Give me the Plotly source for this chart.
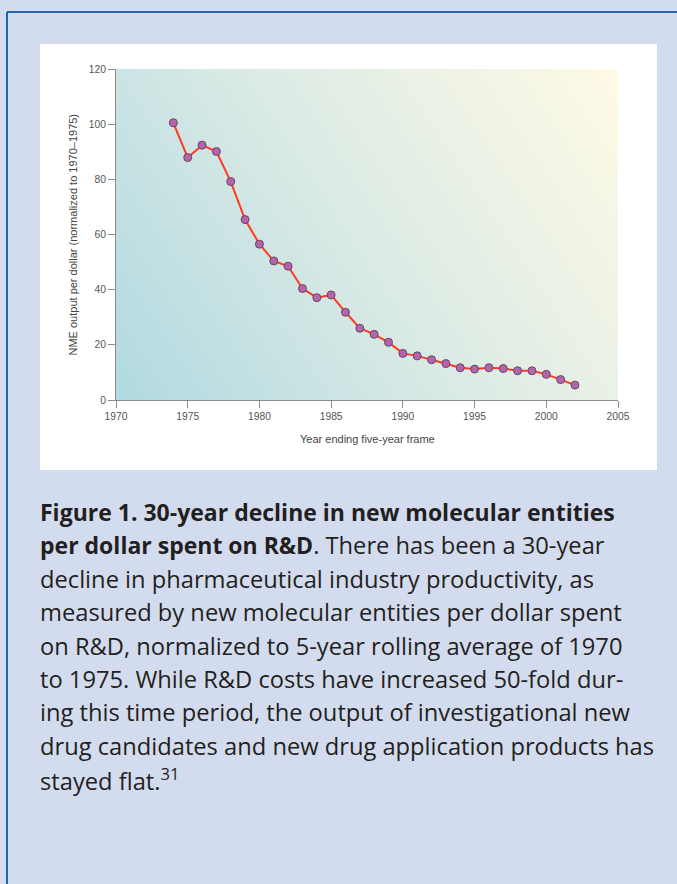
import base64
import plotly.graph_objects as go

# ---- data ----
years = list(range(1974, 2003))
nme_per_dollar = [100.5, 87.9, 92.4, 90.1, 79.2, 65.4, 56.5, 50.4, 48.5, 40.4,
                  37.1, 38.1, 31.8, 26.0, 23.8, 20.9, 16.9, 16.0, 14.6, 13.2,
                  11.7, 11.2, 11.7, 11.4, 10.6, 10.6, 9.3, 7.4, 5.4]
x_ticks = [1970, 1975, 1980, 1985, 1990, 1995, 2000, 2005]
y_ticks = [0, 20, 40, 60, 80, 100, 120]
x_title = "Year ending five-year frame"
y_title = "NME output per dollar (normalized to 1970\u20131975)"
BOLD = '<span style="font-size:23px"><b>{}</b></span>'
caption_lines = [
    BOLD.format("Figure 1. 30-year decline in new molecular entities"),
    BOLD.format("per dollar spent on R&amp;D") + ". There has been a 30-year",
    "decline in pharmaceutical industry productivity, as",
    "measured by new molecular entities per dollar spent",
    "on R&amp;D, normalized to 5-year rolling average of 1970",
    "to 1975. While R&amp;D costs have increased 50-fold dur-",
    "ing this time period, the output of investigational new",
    "drug candidates and new drug application products has",
    "stayed flat.<sup>31</sup>",
]

W, H = 677, 884
L, R, T, B = 116, 618, 69, 400  # plot area in pixels
PW, PH = R - L, B - T


def px(X):
    return (X - L) / PW


def py(Y):
    return (B - Y) / PH


fig = go.Figure()
fig.add_trace(go.Scatter(
    x=years, y=nme_per_dollar, mode="lines+markers",
    line=dict(color="#FF3A22", width=2),
    marker=dict(size=8, color="#B465AA", line=dict(color="#6A4466", width=1)),
    showlegend=False, hoverinfo="x+y",
))

svg = (
    '<svg xmlns="http://www.w3.org/2000/svg" width="502" height="331" '
    'viewBox="0 0 502 331" preserveAspectRatio="none"><defs>'
    '<linearGradient id="g" gradientUnits="userSpaceOnUse" x1="0" y1="331" x2="502" y2="0">'
    '<stop offset="0" stop-color="#B1D9E1"/><stop offset="0.5" stop-color="#DCEBE5"/>'
    '<stop offset="1" stop-color="#FFFAE6"/></linearGradient></defs>'
    '<rect width="502" height="331" fill="url(#g)"/></svg>'
)
src = "data:image/svg+xml;base64," + base64.b64encode(svg.encode()).decode()

fig.add_layout_image(dict(
    source=src, xref="x", yref="y", x=x_ticks[0], y=y_ticks[-1],
    sizex=x_ticks[-1] - x_ticks[0], sizey=y_ticks[-1] - y_ticks[0],
    xanchor="left", yanchor="top", sizing="stretch", layer="below",
))

shapes = [
    # white chart panel
    dict(type="rect", xref="paper", yref="paper", x0=px(40), x1=px(657),
         y0=py(470), y1=py(44), fillcolor="white", line=dict(width=0), layer="below"),
    # page border (top & left)
    dict(type="line", xref="paper", yref="paper", x0=px(7), x1=px(680),
         y0=py(12), y1=py(12), line=dict(color="#2366AF", width=2)),
    dict(type="line", xref="paper", yref="paper", x0=px(7), x1=px(7),
         y0=py(12), y1=py(890), line=dict(color="#2366AF", width=2)),
]

annotations = [
    dict(text=y_title, xref="paper", yref="paper", x=px(72), y=py((T + B) / 2),
         textangle=-90, showarrow=False, xanchor="center", yanchor="middle",
         font=dict(family="Liberation Sans, Arial", size=11, color="#444444")),
    dict(text=x_title, xref="paper", yref="paper", x=px((L + R) / 2), y=py(439),
         showarrow=False, xanchor="center", yanchor="middle",
         font=dict(family="Liberation Sans, Arial", size=11, color="#444444")),
]
for i, line in enumerate(caption_lines):
    annotations.append(dict(
        text=line, xref="paper", yref="paper", x=px(38), y=py(512 + 33.4 * i),
        showarrow=False, xanchor="left", yanchor="middle", align="left",
        font=dict(family="Open Sans, Noto Sans, sans-serif", size=23.7, color="#231F20"),
    ))

axis_common = dict(
    showline=True, linecolor="#8C8C8C", linewidth=1, ticks="outside", ticklen=7,
    tickcolor="#8C8C8C", tickwidth=1, showgrid=False, zeroline=False,
    tickfont=dict(family="Liberation Sans, Arial", size=10.3, color="#555555"),
)
fig.update_xaxes(range=[x_ticks[0], x_ticks[-1]], tickvals=x_ticks, **axis_common)
fig.update_yaxes(range=[y_ticks[0], y_ticks[-1]], tickvals=y_ticks, **axis_common)

fig.update_layout(
    width=W, height=H, autosize=False,
    margin=dict(l=L, r=W - R, t=T, b=H - B, pad=0),
    paper_bgcolor="#D3DCEE", plot_bgcolor="rgba(0,0,0,0)",
    shapes=shapes, annotations=annotations,
)

fig.write_html(
    "out.html",
    config={"displayModeBar": False},
    post_script="document.body.style.margin='0px';document.body.style.overflow='hidden';",
)
